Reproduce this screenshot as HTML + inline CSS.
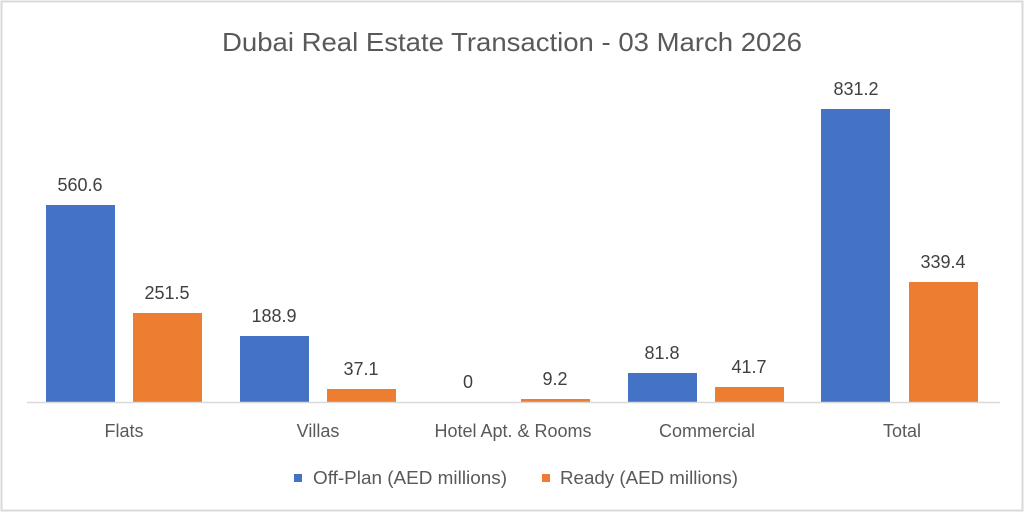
<!DOCTYPE html>
<html><head><meta charset="utf-8"><style>
html,body{margin:0;padding:0;background:#fff;}
</style></head><body>
<svg width="1024" height="513" xmlns="http://www.w3.org/2000/svg" style="display:block;font-family:'Liberation Sans',sans-serif">
<rect x="0" y="0" width="1024" height="513" fill="#fff"/>
<rect x="1.5" y="1.5" width="1021" height="509" fill="none" stroke="#d9d9d9" stroke-width="2"/>
<text x="222" y="51" textLength="580" lengthAdjust="spacingAndGlyphs" font-size="26" fill="#595959">Dubai Real Estate Transaction - 03 March 2026</text>
<g fill="#4472c4">
<rect x="46" y="205" width="69" height="197"/>
<rect x="240" y="336" width="69" height="66"/>
<rect x="628" y="373" width="69" height="29"/>
<rect x="821" y="109" width="69" height="293"/>
</g>
<g fill="#ed7d31">
<rect x="133" y="313" width="69" height="89"/>
<rect x="327" y="389" width="69" height="13"/>
<rect x="521" y="399" width="69" height="3"/>
<rect x="715" y="387" width="69" height="15"/>
<rect x="909" y="282" width="69" height="120"/>
</g>
<line x1="27" y1="402.5" x2="1000" y2="402.5" stroke="#d9d9d9" stroke-width="1.5"/>
<g font-size="18" fill="#404040" text-anchor="middle">
<text x="80" y="191">560.6</text>
<text x="167" y="299">251.5</text>
<text x="274" y="322">188.9</text>
<text x="361" y="375">37.1</text>
<text x="468" y="388">0</text>
<text x="555" y="385">9.2</text>
<text x="662" y="359">81.8</text>
<text x="749" y="373">41.7</text>
<text x="856" y="95">831.2</text>
<text x="943" y="268">339.4</text>
</g>
<g font-size="18" fill="#595959" text-anchor="middle">
<text x="124" y="437">Flats</text>
<text x="318" y="437">Villas</text>
<text x="513" y="437">Hotel Apt. &amp; Rooms</text>
<text x="707" y="437">Commercial</text>
<text x="902" y="437">Total</text>
</g>
<rect x="294" y="474" width="8" height="8" fill="#4472c4"/>
<text x="313" y="484" font-size="18" textLength="194" lengthAdjust="spacingAndGlyphs" fill="#595959">Off-Plan (AED millions)</text>
<rect x="542" y="474" width="8" height="8" fill="#ed7d31"/>
<text x="560" y="484" font-size="18" textLength="178" lengthAdjust="spacingAndGlyphs" fill="#595959">Ready (AED millions)</text>
</svg>
</body></html>
